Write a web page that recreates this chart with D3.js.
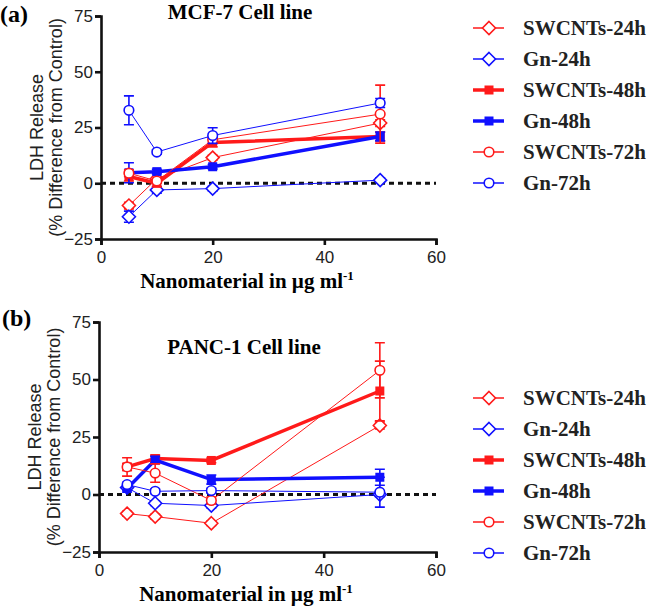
<!DOCTYPE html>
<html lang="en">
<head>
<meta charset="UTF-8">
<title>LDH Release</title>
<script src="https://d3js.org/d3.v7.min.js"></script>
<style>
    body { margin: 0; background: #fff; }
    svg { display: block; }
    .tick text { font-family: "Liberation Sans", Arial, sans-serif; font-size: 17px; fill: #222; }
</style>
</head>
<body>
<svg width="651" height="610"></svg>
<script>
    // concentrations (x) and series
    const doses = [5, 10, 20, 50];
    const seriesNames = ["SWCNTs-24h", "Gn-24h", "SWCNTs-48h", "Gn-48h", "SWCNTs-72h", "Gn-72h"];
    const xTicks = [0, 20, 40, 60];
    const yTicks = [-25, 0, 25, 50, 75];

    // MCF-7 means and errors, one row per series
    const mcf7Values = [
        [-10, 2, 11.5, 27],
        [-15, -3, -2.4, 1.4],
        [3, 0, 18.3, 21],
        [4.7, 5.2, 7.4, 21],
        [4.5, 1, 19.5, 31],
        [32.7, 14, 21.4, 36]
    ];
    const mcf7Errors = [
        [1.5, 1, 1, 1.5],
        [2.5, 1.5, 1, 1],
        [2, 1.5, 2, 2],
        [4.5, 1, 1, 2],
        [1.5, 1, 1.5, 13],
        [6.5, 1, 3.5, 2]
    ];

    // PANC-1 means and errors
    const panc1Values = [
        [-8.3, -9.6, -12.5, 30],
        [3, -3.8, -4.8, 0],
        [12, 15.6, 14.8, 45],
        [2.6, 15, 6.5, 7.5],
        [12, 9.3, -2.6, 54],
        [4.3, 1.4, 1.7, 1]
    ];
    const panc1Errors = [
        [1, 1, 1, 1.5],
        [1, 1, 1, 1],
        [4, 1.5, 1, 13],
        [1.5, 1.5, 2, 3.5],
        [1.5, 4, 1.5, 12],
        [1, 1, 1, 6.5]
    ];

    const RED = "#ff1a1a", BLUE = "#1010ff";
    const style = {
        "SWCNTs-24h": { color: RED, shape: "diamond", filled: false, width: 1 },
        "Gn-24h": { color: BLUE, shape: "diamond", filled: false, width: 1 },
        "SWCNTs-48h": { color: RED, shape: "square", filled: true, width: 3.5 },
        "Gn-48h": { color: BLUE, shape: "square", filled: true, width: 3.5 },
        "SWCNTs-72h": { color: RED, shape: "circle", filled: false, width: 1 },
        "Gn-72h": { color: BLUE, shape: "circle", filled: false, width: 1 }
    };

    const serif = "'Liberation Serif', 'Times New Roman', serif";
    const sans = "'Liberation Sans', Arial, sans-serif";
    const svg = d3.select("svg");

    function marker(g, s, cx, cy) {
        if (s.shape === "diamond") {
            g.append("path")
                .attr("d", `M${cx},${cy - 6.5}L${cx + 6.5},${cy}L${cx},${cy + 6.5}L${cx - 6.5},${cy}Z`)
                .attr("fill", "#fff").attr("stroke", s.color).attr("stroke-width", 1.6);
        } else if (s.shape === "square") {
            g.append("rect")
                .attr("x", cx - 4.5).attr("y", cy - 4.5).attr("width", 9).attr("height", 9)
                .attr("fill", s.color);
        } else {
            g.append("circle")
                .attr("cx", cx).attr("cy", cy).attr("r", 4.8)
                .attr("fill", "#fff").attr("stroke", s.color).attr("stroke-width", 1.6);
        }
    }

    function drawPanel(p) {
        const x = d3.scaleLinear().domain([0, 60]).range([p.left, p.right]);
        const y = d3.scaleLinear().domain([-25, 75]).range([p.bottom, p.top]);
        const g = svg.append("g");

        // axes
        const xa = g.append("g").attr("transform", `translate(0,${p.bottom})`)
            .call(d3.axisBottom(x).tickValues(xTicks).tickSize(6).tickPadding(4));
        const ya = g.append("g").attr("transform", `translate(${p.left},0)`)
            .call(d3.axisLeft(y).tickValues(yTicks).tickSize(6).tickPadding(2));
        [xa, ya].forEach(a => {
            a.select(".domain").attr("stroke", "#111").attr("stroke-width", 2.6);
            a.selectAll(".tick line").attr("stroke", "#111").attr("stroke-width", 2.6);
        });
        xa.selectAll(".tick text").attr("dy", "0.85em");

        // zero reference line
        g.append("line")
            .attr("x1", x(0)).attr("x2", x(60)).attr("y1", y(0)).attr("y2", y(0))
            .attr("stroke", "#111").attr("stroke-width", 3).attr("stroke-dasharray", "5,4");

        // series
        seriesNames.forEach((name, i) => {
            const s = style[name];
            const pts = doses.map((d, j) => ({ d, v: p.values[i][j], e: p.errors[i][j] }));
            const sg = g.append("g");
            // error bars
            pts.forEach(pt => {
                const x0 = x(pt.d);
                sg.append("path")
                    .attr("d", `M${x0},${y(pt.v - pt.e)}V${y(pt.v + pt.e)}` +
                        `M${x0 - 5},${y(pt.v - pt.e)}H${x0 + 5}M${x0 - 5},${y(pt.v + pt.e)}H${x0 + 5}`)
                    .attr("stroke", s.color).attr("stroke-width", 1.6).attr("fill", "none");
            });
            sg.append("path")
                .datum(pts)
                .attr("d", d3.line().x(pt => x(pt.d)).y(pt => y(pt.v)))
                .attr("fill", "none").attr("stroke", s.color).attr("stroke-width", s.width);
            pts.forEach(pt => marker(sg, s, x(pt.d), y(pt.v)));
        });

        // titles
        g.append("text").attr("x", p.tagX).attr("y", p.tagY).text(p.tag)
            .attr("font-family", serif).attr("font-weight", "bold").attr("font-size", 24);
        g.append("text").attr("x", p.titleX).attr("y", p.titleY).attr("text-anchor", "middle")
            .text(p.title)
            .attr("font-family", serif).attr("font-weight", "bold").attr("font-size", 21);

        const xt = g.append("text").attr("x", p.xTitleX).attr("y", p.bottom + 49)
            .attr("text-anchor", "middle")
            .attr("font-family", serif).attr("font-weight", "bold").attr("font-size", 21);
        xt.append("tspan").text("Nanomaterial in µg ml");
        xt.append("tspan").text("-1").attr("font-size", 13).attr("dy", -8);

        const cy = (p.top + p.bottom) / 2;
        g.append("text").attr("transform", `translate(${p.left - 58},${cy}) rotate(-90)`)
            .attr("text-anchor", "middle").text("LDH Release")
            .attr("font-family", sans).attr("font-size", 18).attr("fill", "#222");
        g.append("text").attr("transform", `translate(${p.left - 39},${cy}) rotate(-90)`)
            .attr("text-anchor", "middle").text("(% Difference from Control)")
            .attr("font-family", sans).attr("font-size", 18).attr("fill", "#222");

        // legend
        seriesNames.forEach((name, i) => {
            const s = style[name];
            const ly = p.legendY + i * 31;
            const lg = g.append("g");
            lg.append("line").attr("x1", 473).attr("x2", 504).attr("y1", ly).attr("y2", ly)
                .attr("stroke", s.color).attr("stroke-width", s.width === 1 ? 1.5 : 3.5);
            marker(lg, s, 489, ly);
            lg.append("text").attr("x", 523).attr("y", ly + 7).text(name)
                .attr("font-family", serif).attr("font-weight", "bold").attr("font-size", 21)
                .attr("fill", "#222");
        });
    }

    drawPanel({
        left: 101, right: 436, top: 16, bottom: 239,
        values: mcf7Values, errors: mcf7Errors,
        tag: "(a)", tagX: 0, tagY: 22,
        title: "MCF-7 Cell line", titleX: 240, titleY: 19,
        xTitleX: 247, legendY: 28
    });
    drawPanel({
        left: 99, right: 436, top: 322, bottom: 552,
        values: panc1Values, errors: panc1Errors,
        tag: "(b)", tagX: 2, tagY: 326,
        title: "PANC-1 Cell line", titleX: 244, titleY: 354,
        xTitleX: 246, legendY: 398
    });
</script>
</body>
</html>
